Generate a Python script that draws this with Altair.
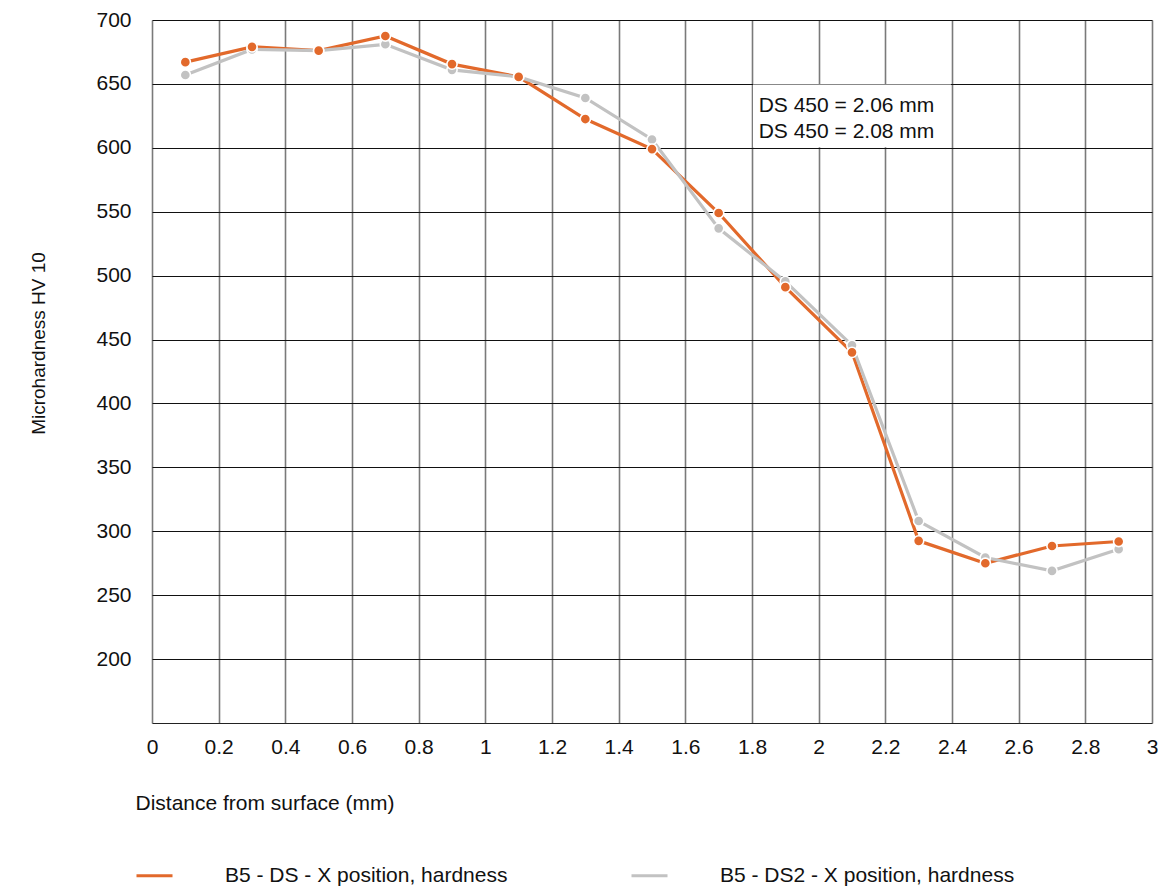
import altair as alt
import pandas as pd

# ---- data ----
distance = [0.1, 0.3, 0.5, 0.7, 0.9, 1.1, 1.3, 1.5, 1.7, 1.9, 2.1, 2.3, 2.5, 2.7, 2.9]
hardness_ds = [667, 679, 676, 687.5, 665.5, 655.5, 622.5, 599, 549, 491, 440, 292.5, 275, 288.5, 292]
hardness_ds2 = [657, 677, 676, 681, 661, 655.5, 639, 606.5, 537, 495.5, 445.5, 308, 279.5, 269, 286]
series_names = ["B5 - DS - X position, hardness", "B5 - DS2 - X position, hardness"]
series_colors = ["#E2692B", "#C2C2C2"]
x_ticks = [0, 0.2, 0.4, 0.6, 0.8, 1, 1.2, 1.4, 1.6, 1.8, 2, 2.2, 2.4, 2.6, 2.8, 3]
y_ticks = [200, 250, 300, 350, 400, 450, 500, 550, 600, 650, 700]
note_lines = ["DS 450 = 2.06 mm", "DS 450 = 2.08 mm"]
note_y = [633, 612.5]
note_x = [1.82, 1.82]
box_x, box_x2 = 1.803, 2.397
box_y, box_y2 = 600.5, 649.5

FONT = "Liberation Sans"
FS = 21

rows = []
for name, vals in zip(series_names, [hardness_ds, hardness_ds2]):
    for d, v in zip(distance, vals):
        rows.append({"distance": d, "hardness": v, "series": name})
df = pd.DataFrame(rows)
# draw DS2 (grey) below DS (orange)
df["order"] = df["series"].map({series_names[0]: 1, series_names[1]: 0})

notes = pd.DataFrame({"x": note_x, "y": note_y, "text": note_lines})
box = pd.DataFrame({"x": [box_x], "x2": [box_x2], "y": [box_y], "y2": [box_y2]})

xscale = alt.Scale(domain=[0, 3], nice=False, zero=False)
yscale = alt.Scale(domain=[150, 700], nice=False, zero=False)

color = alt.Color(
    "series:N",
    scale=alt.Scale(domain=series_names, range=series_colors),
    legend=alt.Legend(
        title=None,
        orient="none",
        legendX=-17,
        legendY=836,
        direction="horizontal",
        symbolType="stroke",
        symbolSize=1296,
        symbolStrokeWidth=3,
        labelOffset=51,
        columnPadding=117,
        labelFontSize=FS,
        labelFont=FONT,
        labelColor="#111111",
        labelLimit=600,
    ),
)

xaxis = alt.X(
    "distance:Q",
    scale=xscale,
    axis=alt.Axis(
        title="Distance from surface (mm)",
        values=x_ticks,
        format="~g",
        labelFlush=False,
        grid=True,
        gridColor="#7a7a7a",
        gridWidth=1.6,
        ticks=False,
        domain=True,
        domainColor="#222222",
        domainWidth=1,
        labelFontSize=FS,
        labelFont=FONT,
        labelColor="#111111",
        labelPadding=13,
        titleFontSize=21,
        titleFont=FONT,
        titleFontWeight="normal",
        titleColor="#111111",
        titleAnchor="start",
        titleAlign="left",
        titleBaseline="middle",
        titleX=-17,
        titleY=80,
    ),
)
yaxis = alt.Y(
    "hardness:Q",
    scale=yscale,
    axis=alt.Axis(
        title="Microhardness HV 10",
        values=y_ticks,
        grid=True,
        gridColor="#111111",
        gridWidth=1,
        ticks=False,
        domain=False,
        labelFontSize=FS,
        labelFont=FONT,
        labelColor="#111111",
        labelPadding=21,
        titleFontSize=19,
        titleFont=FONT,
        titleFontWeight="normal",
        titleColor="#111111",
        titleAnchor="middle",
        titleBaseline="middle",
        titleAlign="center",
        titleX=-114,
        titleY=323,
    ),
)

lines = alt.Chart(df).mark_line(strokeWidth=3.2).encode(
    x=xaxis, y=yaxis, color=color, order=alt.Order("order:Q"), detail="series:N"
)
points = alt.Chart(df).mark_point(
    filled=True, size=105, stroke="white", strokeWidth=1.6, opacity=1
).encode(
    x=alt.X("distance:Q", scale=xscale),
    y=alt.Y("hardness:Q", scale=yscale),
    fill=alt.Fill("series:N", scale=alt.Scale(domain=series_names, range=series_colors), legend=None),
    order=alt.Order("order:Q"),
)
rect = alt.Chart(box).mark_rect(fill="white").encode(
    x=alt.X("x:Q", scale=xscale), x2="x2:Q",
    y=alt.Y("y:Q", scale=yscale), y2="y2:Q",
)
text = alt.Chart(notes).mark_text(
    align="left", baseline="middle", fontSize=FS, font=FONT, color="#111111"
).encode(
    x=alt.X("x:Q", scale=xscale),
    y=alt.Y("y:Q", scale=yscale),
    text="text:N",
)

chart = (
    alt.layer(rect, lines, points, text)
    .properties(
        width=1000,
        height=703,
        autosize=alt.AutoSizeParams(type="none"),
        padding={"left": 144, "top": 12, "right": 13, "bottom": 170},
        background="white",
    )
    .configure_view(stroke=None)
)

chart.save("out.html", embed_options={"renderer": "svg", "actions": False})
